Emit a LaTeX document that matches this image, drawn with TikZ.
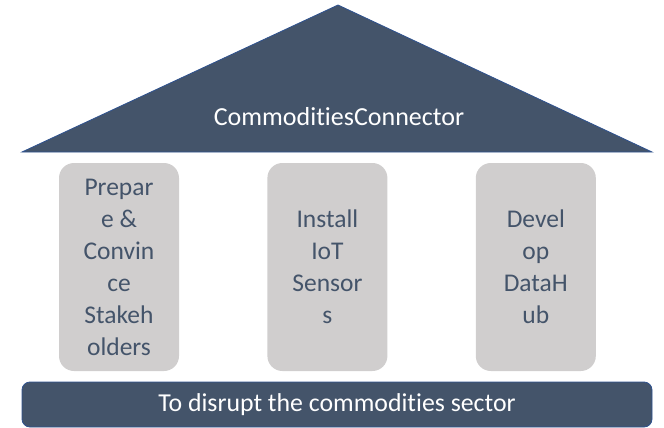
\documentclass[tikz,border=0pt]{standalone}
\usepackage{fontspec}
\setmainfont{Carlito}[Ligatures={NoCommon}]
\usetikzlibrary{positioning}
\definecolor{slate}{HTML}{44546A}
\definecolor{edgeblue}{HTML}{2F528F}
\definecolor{pillargray}{HTML}{D0CECE}

\begin{document}
\begin{tikzpicture}[x=1pt,y=-1pt,
    pillar/.style={fill=pillargray, rounded corners=15pt, minimum width=120pt,
      minimum height=208pt, text=slate, align=center, inner sep=0pt,
      font=\fontsize{25.5}{32}\selectfont},
    bar/.style={fill=slate, draw=edgeblue, line width=0.8pt, text=white},
    node distance=88pt]
    \useasboundingbox (0,0) rectangle (664,428);

    % roof
    \draw[bar] (22,152) -- (338,5) -- (652,152) -- cycle;
    \node[text=white, font=\fontsize{26}{30}\selectfont] (roof) at (339,117) {CommoditiesConnector};

    % pillars
    \node[pillar] (prepare) at (119,267) {Prepar\\e \&\\Convin\\ce\\Stakeh\\olders};
    \node[pillar, right=of prepare] (install) {Install\\IoT\\Sensor\\s};
    \node[pillar, right=of install] (develop) {Devel\\op\\DataH\\ub};

    % base
    \node[bar, rounded corners=8pt, minimum width=630pt, minimum height=45pt,
      font=\fontsize{25.8}{30}\selectfont] (goal) at (337,404.5) {To disrupt the commodities sector};
\end{tikzpicture}
\end{document}
